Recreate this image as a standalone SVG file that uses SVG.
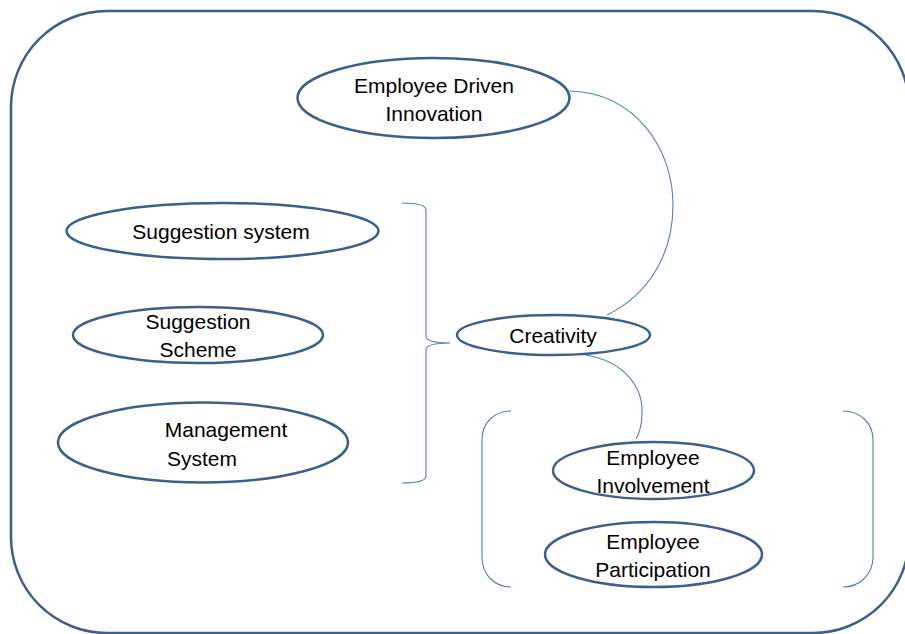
<svg xmlns="http://www.w3.org/2000/svg" width="905" height="634" viewBox="0 0 905 634">
<style>
.frame{fill:none;stroke:#3b5f8e;stroke-width:2.5}
.node{fill:#fff;stroke:#3b5f8e;stroke-width:2.5}
.conn{fill:none;stroke:#4f81bd;stroke-width:1.1}
text{font-family:"Liberation Sans",Arial,sans-serif;font-size:21px;fill:#000;text-anchor:middle}
</style>
<rect x="0" y="0" width="905" height="634" fill="#fff"/>
<rect class="frame" x="11" y="11" width="898" height="622" rx="96" ry="96"/>
<g id="connectors">
<path class="conn" d="M570,91 C635,93 673,148 673,205 C673,255 648,295 607,315"/>
<path class="conn" d="M402,203 Q426,203 426,210 L426,336 Q426,343 450,343 Q426,343 426,350 L426,476 Q426,483 402,483"/>
<path class="conn" d="M585,355 C625,361 643,388 642,413 C642,424 640,432 636,439"/>
<path class="conn" d="M511,411 C495,411 482,422 482,440 L482,557 C482,575 495,587 511,587"/>
<path class="conn" d="M843,411 C859,411 873,422 873,440 L873,557 C873,575 859,587 843,587"/>
</g>
<g id="employee-driven-innovation">
<ellipse class="node" cx="433.5" cy="98" rx="136" ry="40"/>
<text x="434" y="93">Employee Driven</text>
<text x="434" y="121">Innovation</text>
</g>
<g id="suggestion-system">
<ellipse class="node" cx="222.5" cy="231" rx="156" ry="28"/>
<text x="221" y="239">Suggestion system</text>
</g>
<g id="suggestion-scheme">
<ellipse class="node" cx="198" cy="335" rx="125" ry="28"/>
<text x="198" y="329">Suggestion</text>
<text x="198" y="357">Scheme</text>
</g>
<g id="management-system">
<ellipse class="node" cx="203" cy="442.5" rx="145" ry="40"/>
<text x="226" y="437">Management</text>
<text x="202" y="466">System</text>
</g>
<g id="creativity">
<ellipse class="node" cx="553.5" cy="335" rx="96.5" ry="20"/>
<text x="553" y="343">Creativity</text>
</g>
<g id="employee-involvement">
<ellipse class="node" cx="653.5" cy="470.5" rx="100.5" ry="28.5"/>
<text x="653" y="465">Employee</text>
<text x="653" y="493">Involvement</text>
</g>
<g id="employee-participation">
<ellipse class="node" cx="653.5" cy="554.5" rx="108.5" ry="32.5"/>
<text x="653" y="549">Employee</text>
<text x="653" y="577">Participation</text>
</g>
</svg>
